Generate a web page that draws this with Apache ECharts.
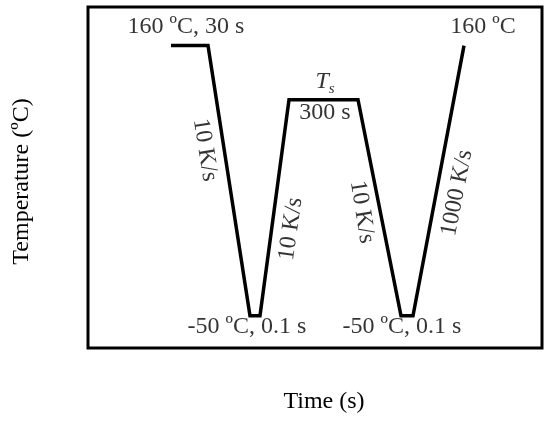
<!DOCTYPE html>
<html>
<head>
<meta charset="utf-8">
<script src="https://cdn.jsdelivr.net/npm/echarts@6/dist/echarts.min.js"></script>
<style>
  html, body { margin: 0; padding: 0; background: #fff; }
  #chart { width: 550px; height: 421px; }
</style>
</head>
<body>
<div id="chart"></div>
<script>
// thermal cycle profile (schematic time units, temperature in ºC)
var profileTime = [83, 120, 162, 172, 201, 270, 313, 325, 376]
var profileTemp = [160, 160, -50, -50, 118, 118, -50, -50, 160]

// annotations anchored in data coordinates
var noteText = ['160 ºC, 30 s', '{t|T}{s|s}', '300 s', '160 ºC', '10 K/s', '10 K/s', '10 K/s', '1000 K/s', '-50 ºC, 0.1 s', '-50 ºC, 0.1 s']
var noteTime = [98, 237, 237, 395, 117, 203, 274, 369, 159, 314]
var noteTemp = [174.5, 131.7, 107.6, 174.5, 78.9, 17.5, 30.7, 45.5, -58.7, -58.7]
var noteAngle = [0, 0, 0, 0, -81, 82, -81, 79, 0, 0]

var font = '"Liberation Serif", serif'
var chart = echarts.init(document.getElementById('chart'))

var notes = noteText.map(function (t, i) {
  return {
    value: [noteTime[i], noteTemp[i]],
    label: { formatter: t, rotate: noteAngle[i] }
  }
})

chart.setOption({
  animation: false,
  grid: {
    left: 88,
    right: 8,
    top: 7,
    bottom: 73,
    show: true,
    borderColor: '#000',
    borderWidth: 3,
    backgroundColor: 'transparent'
  },
  xAxis: {
    type: 'value',
    min: 0,
    max: 454,
    name: 'Time (s)',
    nameLocation: 'middle',
    nameGap: 42,
    nameTextStyle: { fontFamily: font, fontSize: 24, color: '#000', padding: [0, 0, 0, 18] },
    axisLine: { show: false },
    axisTick: { show: false },
    axisLabel: { show: false },
    splitLine: { show: false }
  },
  yAxis: {
    type: 'value',
    min: -75,
    max: 190,
    name: 'Temperature (ºC)',
    nameLocation: 'middle',
    nameGap: 54,
    nameTextStyle: { fontFamily: font, fontSize: 24, color: '#000', padding: [0, 8, 0, 0] },
    axisLine: { show: false },
    axisTick: { show: false },
    axisLabel: { show: false },
    splitLine: { show: false }
  },
  series: [
    {
      type: 'line',
      data: profileTime.map(function (t, i) { return [t, profileTemp[i]] }),
      symbol: 'none',
      lineStyle: { color: '#000', width: 3.5, join: 'miter' },
      z: 3
    },
    {
      type: 'scatter',
      data: notes,
      symbolSize: 0,
      itemStyle: { color: 'transparent' },
      label: {
        show: true,
        position: 'inside',
        align: 'center',
        verticalAlign: 'middle',
        fontFamily: font,
        fontSize: 24,
        color: '#000',
        rich: {
          t: { fontFamily: font, fontSize: 24, fontStyle: 'italic', color: '#000' },
          s: { fontFamily: font, fontSize: 15, fontStyle: 'italic', color: '#000', padding: [14, 0, 0, 0] }
        }
      },
      z: 4
    }
  ]
})
</script>
</body>
</html>
